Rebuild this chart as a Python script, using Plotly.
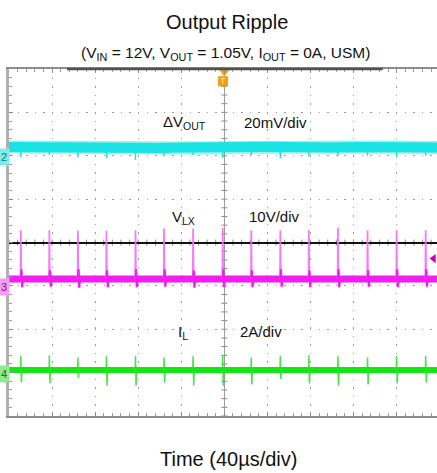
import plotly.graph_objects as go

# ---------------- data read from the scope capture ----------------
time_per_div_us = 40
x_window_us = [-200, 197.5]
switch_times_us = [-189, -162.5, -136, -109.5, -82.5, -56, -29, -1.5, 25, 52, 78.5, 105.5, 133, 160, 187]

# Channel 2 : delta VOUT, 20 mV/div, ground marker at +2 div
vout_scale_mv = 20
vout_offset_div = 2
vout_sample_times_us = [-200, -180, -160, -140, -120, -100, -80, -60, -40, -20, 0,
                        20, 40, 60, 80, 100, 120, 140, 160, 180, 200]
vout_ripple_mv = [4.0, 3.8, 4.0, 3.6, 3.4, 3.8, 3.4, 3.6, 3.8, 3.6, 3.8,
                  4.0, 4.2, 3.8, 4.0, 3.8, 4.0, 3.8, 4.0, 3.8, 3.8]
vout_spike_mv = [-1.5, -1.0, -1.5, -2.0, -2.5, -1.0, -0.5, -2.0, -1.0, -2.0, -1.5, -1.0, -1.0, -2.0, -1.0]

# Channel 3 : VLX, 10 V/div, ground marker at -1 div
vlx_scale_v = 10
vlx_offset_div = -1
vlx_baseline_v = 1.6
vlx_spike_peak_v = [12.8, 12.8, 12.7, 12.7, 12.8, 13.2, 13.2, 13.4, 12.8, 12.8, 12.8, 13.4, 12.8, 12.8, 12.8]
vlx_ring_high_v = [3.8, 3.6, 3.8, 3.6, 3.8, 3.8, 3.6, 3.8, 3.6, 3.8, 3.6, 3.8, 3.6, 3.8, 3.8]
vlx_ring_low_v = [-0.3, -0.2, -0.4, -0.3, -0.3, -0.2, -0.4, -0.3, -0.3, -0.2, -0.3, -0.3, -0.2, -0.3, -0.2]

# Channel 4 : IL, 2 A/div, ground marker at -3 div
il_scale_a = 2
il_offset_div = -3
il_baseline_a = 0.12
il_spike_high_a = [0.76, 0.80, 0.70, 0.76, 0.76, 0.70, 0.76, 0.80, 0.70, 0.76, 0.80, 0.76, 0.70, 0.76, 0.76]
il_spike_low_a = [-0.45, -0.50, -0.25, -0.60, -0.60, -0.45, -0.60, -0.60, -0.55, -0.30, -0.50, -0.60, -0.55, -0.50, -0.45]

CYAN = "#19e3e3"
MAGENTA = "#f01ef0"
GREEN = "#14e614"
ORANGE = "#f5a00a"
FONT = "Liberation Sans, Arial, sans-serif"


def vout_div(mv):
    return vout_offset_div + mv / vout_scale_mv


def vlx_div(v):
    return vlx_offset_div + v / vlx_scale_v


def il_div(a):
    return il_offset_div + a / il_scale_a


fig = go.Figure()

# ---- Channel 2 (cyan) ----
vout_y = [vout_div(v) for v in vout_ripple_mv]
fig.add_trace(go.Scatter(x=vout_sample_times_us, y=vout_y, mode="lines",
                         line=dict(color="rgba(25,227,227,0.45)", width=13),
                         hoverinfo="skip", showlegend=False))
fig.add_trace(go.Scatter(x=vout_sample_times_us, y=vout_y, mode="lines",
                         line=dict(color=CYAN, width=10),
                         hoverinfo="skip", showlegend=False))
sx, sy = [], []
for t, s in zip(switch_times_us, vout_spike_mv):
    k = min(range(len(vout_sample_times_us)), key=lambda i: abs(vout_sample_times_us[i] - t))
    base = vout_ripple_mv[k]
    sx += [t, t, None]
    sy += [vout_div(base), vout_div(base - 2.8 + s), None]
fig.add_trace(go.Scatter(x=sx, y=sy, mode="lines", line=dict(color=CYAN, width=1.5),
                         hoverinfo="skip", showlegend=False))

# ---- Channel 3 (magenta) ----
fig.add_trace(go.Scatter(x=[-200, 200], y=[vlx_div(vlx_baseline_v)] * 2, mode="lines",
                         line=dict(color=MAGENTA, width=7),
                         hoverinfo="skip", showlegend=False))
sx, sy = [], []
for t, pk in zip(switch_times_us, vlx_spike_peak_v):
    sx += [t - 0.3, t, t + 0.4, None]
    sy += [vlx_div(vlx_baseline_v), vlx_div(pk), vlx_div(vlx_baseline_v), None]
fig.add_trace(go.Scatter(x=sx, y=sy, mode="lines",
                         line=dict(color="rgba(245,110,245,0.9)", width=1.8),
                         hoverinfo="skip", showlegend=False))
rx, ry = [], []
for t, hi, lo in zip(switch_times_us, vlx_ring_high_v, vlx_ring_low_v):
    rx += [t, t + 0.6, t + 1.2, t + 2.0, None]
    ry += [vlx_div(vlx_baseline_v), vlx_div(hi), vlx_div(lo), vlx_div(vlx_baseline_v), None]
fig.add_trace(go.Scatter(x=rx, y=ry, mode="lines", line=dict(color=MAGENTA, width=2.2),
                         hoverinfo="skip", showlegend=False))

# ---- Channel 4 (green) ----
fig.add_trace(go.Scatter(x=[-200, 200], y=[il_div(il_baseline_a)] * 2, mode="lines",
                         line=dict(color=GREEN, width=6),
                         hoverinfo="skip", showlegend=False))
gx, gy = [], []
for t, hi, lo in zip(switch_times_us, il_spike_high_a, il_spike_low_a):
    gx += [t - 0.3, t, t + 0.5, t + 1.1, None]
    gy += [il_div(il_baseline_a), il_div(hi), il_div(lo), il_div(il_baseline_a), None]
fig.add_trace(go.Scatter(x=gx, y=gy, mode="lines", line=dict(color="rgba(40,225,40,0.85)", width=1.5),
                         hoverinfo="skip", showlegend=False))

# trigger level marker (right) and trigger position (top)
fig.add_trace(go.Scatter(x=[194.4], y=[-0.37], mode="markers",
                         marker=dict(symbol="triangle-left", size=8, color="#c000c0"),
                         cliponaxis=False, hoverinfo="skip", showlegend=False))
fig.add_trace(go.Scatter(x=[0], y=[3.93], mode="markers",
                         marker=dict(symbol="triangle-down", size=9, color=ORANGE),
                         cliponaxis=False, hoverinfo="skip", showlegend=False))
fig.add_trace(go.Scatter(x=[-1.2], y=[3.72], mode="markers",
                         marker=dict(symbol="square", size=10, color=ORANGE),
                         cliponaxis=False, hoverinfo="skip", showlegend=False))


def pp(px, py):
    return (px - 9) / 428, (416 - py) / 347


# ---- crosshair ticks on the centre lines ----
shapes = []
for k in range(-20, 21):
    shapes.append(dict(type="line", xref="x", yref="y", xsizemode="pixel", xanchor=0,
                       x0=-3, x1=3, y0=k * 0.2, y1=k * 0.2,
                       line=dict(color="#8a8a8a", width=1), layer="below"))
for k in range(-25, 26):
    shapes.append(dict(type="line", xref="x", yref="y", ysizemode="pixel", yanchor=0,
                       y0=-3, y1=3, x0=k * 8, x1=k * 8,
                       line=dict(color="#8a8a8a", width=1), layer="below"))
# record-length bar on the top border
shapes.append(dict(type="line", xref="x", yref="paper", x0=-146.2, x1=147.1, y0=1, y1=1,
                   line=dict(color="#505050", width=2.5)))

annotations = []


def label(text, px, py, size, xanchor="center", color="#111111", bg=None):
    x, y = pp(px, py)
    a = dict(text=text, x=x, y=y, xref="paper", yref="paper",
             xanchor=xanchor, yanchor="middle", showarrow=False,
             font=dict(family=FONT, size=size, color=color))
    if bg:
        a.update(bgcolor=bg, borderpad=2)
    annotations.append(a)


label("Output Ripple", 227, 22, 20)
label("(V<sub>IN</sub> = 12V, V<sub>OUT</sub> = 1.05V, I<sub>OUT</sub> = 0A, USM)", 225.5, 53, 15.5)
label("ΔV<sub>OUT</sub>", 161, 123, 15, "left")
label("20mV/div", 242, 122, 15, "left")
label("V<sub>LX</sub>", 170, 217, 15, "left")
label("10V/div", 247, 216, 15, "left")
label("I<sub>L</sub>", 176, 332, 15, "left")
label("2A/div", 238, 331, 15, "left")
label("Time (40µs/div)", 228.5, 459, 20)
# channel ground markers on the left edge and the trigger "T"
label("2", 3.5, 157, 11, color="#0a7a7a", bg="#80eaea")
label("3", 3.5, 287, 11, color="#9a009a", bg="#eea0ee")
label("4", 3.5, 373.5, 11, color="#0a7a0a", bg="#90ea90")
label("T", 223, 81, 9, color="#ffe0a0")

grid_common = dict(showgrid=True, gridcolor="#9a9a9a", gridwidth=1, griddash="1.5px,7.1px",
                   showticklabels=False, ticks="inside", ticklen=4, tickcolor="#8a8a8a")

fig.update_layout(
    width=437, height=473,
    margin=dict(l=9, r=0, t=69, b=57),
    paper_bgcolor="white", plot_bgcolor="white",
    showlegend=False,
    xaxis=dict(range=x_window_us, dtick=time_per_div_us, tick0=0,
               zeroline=True, zerolinecolor="#9a9a9a", zerolinewidth=1,
               showline=True, linecolor="#8c8c8c", linewidth=1.5, mirror="ticks",
               minor=dict(dtick=8, ticks="inside", ticklen=3, tickcolor="#9a9a9a", showgrid=False),
               **grid_common),
    yaxis=dict(range=[-4, 4], dtick=1, tick0=0,
               zeroline=True, zerolinecolor="#111111", zerolinewidth=1.5,
               showline=True, linecolor="#b0b0b0", linewidth=3, mirror=False,
               minor=dict(dtick=0.2, ticks="inside", ticklen=3, tickcolor="#9a9a9a", showgrid=False),
               **grid_common),
    shapes=shapes,
    annotations=annotations,
)

fig.write_html("out.html", config={"displayModeBar": False},
               post_script="document.body.style.margin='0';")
